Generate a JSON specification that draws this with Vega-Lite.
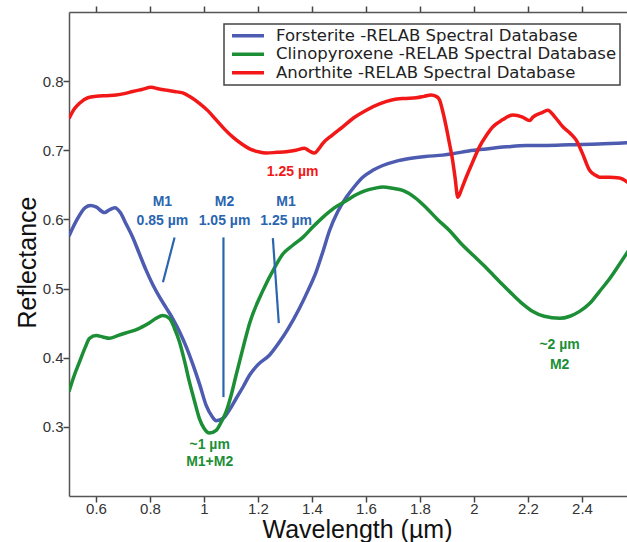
{
  "$schema": "https://vega.github.io/schema/vega-lite/v6.json",
  "width": 560,
  "height": 484,
  "autosize": {"type": "none"},
  "padding": {"left": 69, "top": 12, "right": 0, "bottom": 46},
  "background": "white",
  "config": {
    "view": {"stroke": null},
    "font": "Liberation Sans",
    "legend": {"strokeWidth": 1.5},
    "axis": {
      "domainColor": "#555555",
      "domainWidth": 1.5,
      "tickColor": "#444444",
      "tickWidth": 1.5,
      "tickSize": 6,
      "grid": false,
      "labelFont": "Liberation Sans",
      "labelFontSize": 15,
      "labelColor": "#333333",
      "titleFont": "Liberation Sans",
      "titleFontWeight": "normal",
      "titleFontSize": 25,
      "titleColor": "#111111"
    }
  },
  "datasets": {
    "spectra": [
      {"mineral": "Forsterite", "wavelength": 0.5, "reflectance": 0.576},
      {"mineral": "Forsterite", "wavelength": 0.53, "reflectance": 0.6},
      {"mineral": "Forsterite", "wavelength": 0.56, "reflectance": 0.617},
      {"mineral": "Forsterite", "wavelength": 0.58, "reflectance": 0.62},
      {"mineral": "Forsterite", "wavelength": 0.6, "reflectance": 0.618},
      {"mineral": "Forsterite", "wavelength": 0.631, "reflectance": 0.61},
      {"mineral": "Forsterite", "wavelength": 0.65, "reflectance": 0.614},
      {"mineral": "Forsterite", "wavelength": 0.67, "reflectance": 0.617},
      {"mineral": "Forsterite", "wavelength": 0.69, "reflectance": 0.61},
      {"mineral": "Forsterite", "wavelength": 0.712, "reflectance": 0.593},
      {"mineral": "Forsterite", "wavelength": 0.735, "reflectance": 0.575},
      {"mineral": "Forsterite", "wavelength": 0.761, "reflectance": 0.55},
      {"mineral": "Forsterite", "wavelength": 0.785, "reflectance": 0.527},
      {"mineral": "Forsterite", "wavelength": 0.81, "reflectance": 0.506},
      {"mineral": "Forsterite", "wavelength": 0.835, "reflectance": 0.488},
      {"mineral": "Forsterite", "wavelength": 0.86, "reflectance": 0.472},
      {"mineral": "Forsterite", "wavelength": 0.885, "reflectance": 0.456},
      {"mineral": "Forsterite", "wavelength": 0.909, "reflectance": 0.438},
      {"mineral": "Forsterite", "wavelength": 0.935, "reflectance": 0.415},
      {"mineral": "Forsterite", "wavelength": 0.959, "reflectance": 0.39},
      {"mineral": "Forsterite", "wavelength": 0.985, "reflectance": 0.36},
      {"mineral": "Forsterite", "wavelength": 1.008, "reflectance": 0.331},
      {"mineral": "Forsterite", "wavelength": 1.03, "reflectance": 0.315},
      {"mineral": "Forsterite", "wavelength": 1.045, "reflectance": 0.309},
      {"mineral": "Forsterite", "wavelength": 1.07, "reflectance": 0.312},
      {"mineral": "Forsterite", "wavelength": 1.095, "reflectance": 0.325},
      {"mineral": "Forsterite", "wavelength": 1.119, "reflectance": 0.341},
      {"mineral": "Forsterite", "wavelength": 1.145, "reflectance": 0.358},
      {"mineral": "Forsterite", "wavelength": 1.169, "reflectance": 0.375},
      {"mineral": "Forsterite", "wavelength": 1.2, "reflectance": 0.39},
      {"mineral": "Forsterite", "wavelength": 1.243, "reflectance": 0.404},
      {"mineral": "Forsterite", "wavelength": 1.28, "reflectance": 0.423},
      {"mineral": "Forsterite", "wavelength": 1.31, "reflectance": 0.441},
      {"mineral": "Forsterite", "wavelength": 1.354, "reflectance": 0.472},
      {"mineral": "Forsterite", "wavelength": 1.385, "reflectance": 0.497},
      {"mineral": "Forsterite", "wavelength": 1.416, "reflectance": 0.525},
      {"mineral": "Forsterite", "wavelength": 1.44, "reflectance": 0.553},
      {"mineral": "Forsterite", "wavelength": 1.465, "reflectance": 0.584},
      {"mineral": "Forsterite", "wavelength": 1.495, "reflectance": 0.611},
      {"mineral": "Forsterite", "wavelength": 1.527, "reflectance": 0.632},
      {"mineral": "Forsterite", "wavelength": 1.558, "reflectance": 0.648},
      {"mineral": "Forsterite", "wavelength": 1.588, "reflectance": 0.661},
      {"mineral": "Forsterite", "wavelength": 1.625, "reflectance": 0.671},
      {"mineral": "Forsterite", "wavelength": 1.662, "reflectance": 0.678},
      {"mineral": "Forsterite", "wavelength": 1.71, "reflectance": 0.684},
      {"mineral": "Forsterite", "wavelength": 1.761, "reflectance": 0.688},
      {"mineral": "Forsterite", "wavelength": 1.82, "reflectance": 0.691},
      {"mineral": "Forsterite", "wavelength": 1.884, "reflectance": 0.693},
      {"mineral": "Forsterite", "wavelength": 1.921, "reflectance": 0.695},
      {"mineral": "Forsterite", "wavelength": 1.98, "reflectance": 0.699},
      {"mineral": "Forsterite", "wavelength": 2.045, "reflectance": 0.702},
      {"mineral": "Forsterite", "wavelength": 2.12, "reflectance": 0.705},
      {"mineral": "Forsterite", "wavelength": 2.193, "reflectance": 0.707},
      {"mineral": "Forsterite", "wavelength": 2.27, "reflectance": 0.707},
      {"mineral": "Forsterite", "wavelength": 2.354, "reflectance": 0.708},
      {"mineral": "Forsterite", "wavelength": 2.46, "reflectance": 0.709},
      {"mineral": "Forsterite", "wavelength": 2.574, "reflectance": 0.711},

      {"mineral": "Clinopyroxene", "wavelength": 0.5, "reflectance": 0.351},
      {"mineral": "Clinopyroxene", "wavelength": 0.52, "reflectance": 0.375},
      {"mineral": "Clinopyroxene", "wavelength": 0.539, "reflectance": 0.394},
      {"mineral": "Clinopyroxene", "wavelength": 0.56, "reflectance": 0.415},
      {"mineral": "Clinopyroxene", "wavelength": 0.576, "reflectance": 0.428},
      {"mineral": "Clinopyroxene", "wavelength": 0.601, "reflectance": 0.432},
      {"mineral": "Clinopyroxene", "wavelength": 0.625, "reflectance": 0.43},
      {"mineral": "Clinopyroxene", "wavelength": 0.65, "reflectance": 0.428},
      {"mineral": "Clinopyroxene", "wavelength": 0.68, "reflectance": 0.432},
      {"mineral": "Clinopyroxene", "wavelength": 0.712, "reflectance": 0.436},
      {"mineral": "Clinopyroxene", "wavelength": 0.745, "reflectance": 0.44},
      {"mineral": "Clinopyroxene", "wavelength": 0.773, "reflectance": 0.445},
      {"mineral": "Clinopyroxene", "wavelength": 0.8, "reflectance": 0.451},
      {"mineral": "Clinopyroxene", "wavelength": 0.823, "reflectance": 0.457},
      {"mineral": "Clinopyroxene", "wavelength": 0.847, "reflectance": 0.461},
      {"mineral": "Clinopyroxene", "wavelength": 0.872, "reflectance": 0.457},
      {"mineral": "Clinopyroxene", "wavelength": 0.89, "reflectance": 0.443},
      {"mineral": "Clinopyroxene", "wavelength": 0.909, "reflectance": 0.423},
      {"mineral": "Clinopyroxene", "wavelength": 0.928, "reflectance": 0.395},
      {"mineral": "Clinopyroxene", "wavelength": 0.946, "reflectance": 0.365},
      {"mineral": "Clinopyroxene", "wavelength": 0.965, "reflectance": 0.337},
      {"mineral": "Clinopyroxene", "wavelength": 0.983, "reflectance": 0.312},
      {"mineral": "Clinopyroxene", "wavelength": 1.0, "reflectance": 0.298},
      {"mineral": "Clinopyroxene", "wavelength": 1.02, "reflectance": 0.291},
      {"mineral": "Clinopyroxene", "wavelength": 1.045, "reflectance": 0.295},
      {"mineral": "Clinopyroxene", "wavelength": 1.065, "reflectance": 0.308},
      {"mineral": "Clinopyroxene", "wavelength": 1.082, "reflectance": 0.322},
      {"mineral": "Clinopyroxene", "wavelength": 1.1, "reflectance": 0.345},
      {"mineral": "Clinopyroxene", "wavelength": 1.119, "reflectance": 0.375},
      {"mineral": "Clinopyroxene", "wavelength": 1.145, "reflectance": 0.415},
      {"mineral": "Clinopyroxene", "wavelength": 1.169, "reflectance": 0.45},
      {"mineral": "Clinopyroxene", "wavelength": 1.218, "reflectance": 0.497},
      {"mineral": "Clinopyroxene", "wavelength": 1.261, "reflectance": 0.53},
      {"mineral": "Clinopyroxene", "wavelength": 1.292, "reflectance": 0.55},
      {"mineral": "Clinopyroxene", "wavelength": 1.33, "reflectance": 0.563},
      {"mineral": "Clinopyroxene", "wavelength": 1.366, "reflectance": 0.574},
      {"mineral": "Clinopyroxene", "wavelength": 1.4, "reflectance": 0.588},
      {"mineral": "Clinopyroxene", "wavelength": 1.44, "reflectance": 0.603},
      {"mineral": "Clinopyroxene", "wavelength": 1.48, "reflectance": 0.616},
      {"mineral": "Clinopyroxene", "wavelength": 1.527, "reflectance": 0.627},
      {"mineral": "Clinopyroxene", "wavelength": 1.565, "reflectance": 0.636},
      {"mineral": "Clinopyroxene", "wavelength": 1.601, "reflectance": 0.642},
      {"mineral": "Clinopyroxene", "wavelength": 1.632, "reflectance": 0.645},
      {"mineral": "Clinopyroxene", "wavelength": 1.662, "reflectance": 0.647},
      {"mineral": "Clinopyroxene", "wavelength": 1.7, "reflectance": 0.645},
      {"mineral": "Clinopyroxene", "wavelength": 1.736, "reflectance": 0.642},
      {"mineral": "Clinopyroxene", "wavelength": 1.78, "reflectance": 0.632},
      {"mineral": "Clinopyroxene", "wavelength": 1.823, "reflectance": 0.617},
      {"mineral": "Clinopyroxene", "wavelength": 1.865, "reflectance": 0.6},
      {"mineral": "Clinopyroxene", "wavelength": 1.909, "reflectance": 0.584},
      {"mineral": "Clinopyroxene", "wavelength": 1.95, "reflectance": 0.566},
      {"mineral": "Clinopyroxene", "wavelength": 2.0, "reflectance": 0.547},
      {"mineral": "Clinopyroxene", "wavelength": 2.045, "reflectance": 0.53},
      {"mineral": "Clinopyroxene", "wavelength": 2.095, "reflectance": 0.51},
      {"mineral": "Clinopyroxene", "wavelength": 2.144, "reflectance": 0.491},
      {"mineral": "Clinopyroxene", "wavelength": 2.18, "reflectance": 0.478},
      {"mineral": "Clinopyroxene", "wavelength": 2.218, "reflectance": 0.467},
      {"mineral": "Clinopyroxene", "wavelength": 2.26, "reflectance": 0.46},
      {"mineral": "Clinopyroxene", "wavelength": 2.317, "reflectance": 0.457},
      {"mineral": "Clinopyroxene", "wavelength": 2.355, "reflectance": 0.46},
      {"mineral": "Clinopyroxene", "wavelength": 2.391, "reflectance": 0.467},
      {"mineral": "Clinopyroxene", "wavelength": 2.43, "reflectance": 0.479},
      {"mineral": "Clinopyroxene", "wavelength": 2.465, "reflectance": 0.496},
      {"mineral": "Clinopyroxene", "wavelength": 2.5, "reflectance": 0.513},
      {"mineral": "Clinopyroxene", "wavelength": 2.535, "reflectance": 0.533},
      {"mineral": "Clinopyroxene", "wavelength": 2.574, "reflectance": 0.556},

      {"mineral": "Anorthite", "wavelength": 0.5, "reflectance": 0.746},
      {"mineral": "Anorthite", "wavelength": 0.52, "reflectance": 0.76},
      {"mineral": "Anorthite", "wavelength": 0.539, "reflectance": 0.768},
      {"mineral": "Anorthite", "wavelength": 0.57, "reflectance": 0.776},
      {"mineral": "Anorthite", "wavelength": 0.601, "reflectance": 0.778},
      {"mineral": "Anorthite", "wavelength": 0.64, "reflectance": 0.779},
      {"mineral": "Anorthite", "wavelength": 0.675, "reflectance": 0.78},
      {"mineral": "Anorthite", "wavelength": 0.705, "reflectance": 0.782},
      {"mineral": "Anorthite", "wavelength": 0.736, "reflectance": 0.785},
      {"mineral": "Anorthite", "wavelength": 0.77, "reflectance": 0.788},
      {"mineral": "Anorthite", "wavelength": 0.804, "reflectance": 0.791},
      {"mineral": "Anorthite", "wavelength": 0.83, "reflectance": 0.789},
      {"mineral": "Anorthite", "wavelength": 0.86, "reflectance": 0.787},
      {"mineral": "Anorthite", "wavelength": 0.89, "reflectance": 0.785},
      {"mineral": "Anorthite", "wavelength": 0.921, "reflectance": 0.783},
      {"mineral": "Anorthite", "wavelength": 0.95, "reflectance": 0.777},
      {"mineral": "Anorthite", "wavelength": 0.983, "reflectance": 0.768},
      {"mineral": "Anorthite", "wavelength": 1.015, "reflectance": 0.757},
      {"mineral": "Anorthite", "wavelength": 1.045, "reflectance": 0.744},
      {"mineral": "Anorthite", "wavelength": 1.075, "reflectance": 0.731},
      {"mineral": "Anorthite", "wavelength": 1.107, "reflectance": 0.719},
      {"mineral": "Anorthite", "wavelength": 1.14, "reflectance": 0.709},
      {"mineral": "Anorthite", "wavelength": 1.169, "reflectance": 0.702},
      {"mineral": "Anorthite", "wavelength": 1.2, "reflectance": 0.698},
      {"mineral": "Anorthite", "wavelength": 1.23, "reflectance": 0.696},
      {"mineral": "Anorthite", "wavelength": 1.27, "reflectance": 0.697},
      {"mineral": "Anorthite", "wavelength": 1.304, "reflectance": 0.698},
      {"mineral": "Anorthite", "wavelength": 1.34, "reflectance": 0.7},
      {"mineral": "Anorthite", "wavelength": 1.372, "reflectance": 0.703},
      {"mineral": "Anorthite", "wavelength": 1.39, "reflectance": 0.699},
      {"mineral": "Anorthite", "wavelength": 1.409, "reflectance": 0.696},
      {"mineral": "Anorthite", "wavelength": 1.425, "reflectance": 0.702},
      {"mineral": "Anorthite", "wavelength": 1.44, "reflectance": 0.71},
      {"mineral": "Anorthite", "wavelength": 1.475, "reflectance": 0.722},
      {"mineral": "Anorthite", "wavelength": 1.514, "reflectance": 0.734},
      {"mineral": "Anorthite", "wavelength": 1.555, "reflectance": 0.747},
      {"mineral": "Anorthite", "wavelength": 1.601, "reflectance": 0.758},
      {"mineral": "Anorthite", "wavelength": 1.65, "reflectance": 0.767},
      {"mineral": "Anorthite", "wavelength": 1.699, "reflectance": 0.773},
      {"mineral": "Anorthite", "wavelength": 1.74, "reflectance": 0.775},
      {"mineral": "Anorthite", "wavelength": 1.786, "reflectance": 0.776},
      {"mineral": "Anorthite", "wavelength": 1.815, "reflectance": 0.778},
      {"mineral": "Anorthite", "wavelength": 1.841, "reflectance": 0.78},
      {"mineral": "Anorthite", "wavelength": 1.86, "reflectance": 0.778},
      {"mineral": "Anorthite", "wavelength": 1.872, "reflectance": 0.773},
      {"mineral": "Anorthite", "wavelength": 1.885, "reflectance": 0.755},
      {"mineral": "Anorthite", "wavelength": 1.897, "reflectance": 0.734},
      {"mineral": "Anorthite", "wavelength": 1.91, "reflectance": 0.708},
      {"mineral": "Anorthite", "wavelength": 1.921, "reflectance": 0.685},
      {"mineral": "Anorthite", "wavelength": 1.93, "reflectance": 0.66},
      {"mineral": "Anorthite", "wavelength": 1.94, "reflectance": 0.632},
      {"mineral": "Anorthite", "wavelength": 1.955, "reflectance": 0.645},
      {"mineral": "Anorthite", "wavelength": 1.971, "reflectance": 0.661},
      {"mineral": "Anorthite", "wavelength": 1.995, "reflectance": 0.683},
      {"mineral": "Anorthite", "wavelength": 2.02, "reflectance": 0.705},
      {"mineral": "Anorthite", "wavelength": 2.045, "reflectance": 0.721},
      {"mineral": "Anorthite", "wavelength": 2.07, "reflectance": 0.734},
      {"mineral": "Anorthite", "wavelength": 2.105, "reflectance": 0.744},
      {"mineral": "Anorthite", "wavelength": 2.144, "reflectance": 0.751},
      {"mineral": "Anorthite", "wavelength": 2.18, "reflectance": 0.748},
      {"mineral": "Anorthite", "wavelength": 2.206, "reflectance": 0.743},
      {"mineral": "Anorthite", "wavelength": 2.218, "reflectance": 0.748},
      {"mineral": "Anorthite", "wavelength": 2.23, "reflectance": 0.751},
      {"mineral": "Anorthite", "wavelength": 2.25, "reflectance": 0.754},
      {"mineral": "Anorthite", "wavelength": 2.273, "reflectance": 0.758},
      {"mineral": "Anorthite", "wavelength": 2.3, "reflectance": 0.748},
      {"mineral": "Anorthite", "wavelength": 2.329, "reflectance": 0.734},
      {"mineral": "Anorthite", "wavelength": 2.355, "reflectance": 0.725},
      {"mineral": "Anorthite", "wavelength": 2.378, "reflectance": 0.715},
      {"mineral": "Anorthite", "wavelength": 2.4, "reflectance": 0.697},
      {"mineral": "Anorthite", "wavelength": 2.428, "reflectance": 0.671},
      {"mineral": "Anorthite", "wavelength": 2.45, "reflectance": 0.664},
      {"mineral": "Anorthite", "wavelength": 2.465, "reflectance": 0.661},
      {"mineral": "Anorthite", "wavelength": 2.5, "reflectance": 0.661},
      {"mineral": "Anorthite", "wavelength": 2.539, "reflectance": 0.66},
      {"mineral": "Anorthite", "wavelength": 2.574, "reflectance": 0.652}
    ],
    "pointers": [
      {"band": "M1 0.85", "x": 0.891, "y": 0.574, "x2": 0.848, "y2": 0.509},
      {"band": "M2 1.05", "x": 1.072, "y": 0.574, "x2": 1.072, "y2": 0.343},
      {"band": "M1 1.25", "x": 1.255, "y": 0.573, "x2": 1.277, "y2": 0.45}
    ],
    "labels": [
      {"group": "Forsterite", "text": "M1", "x": 0.846, "y": 0.625},
      {"group": "Forsterite", "text": "0.85 µm", "x": 0.846, "y": 0.598},
      {"group": "Forsterite", "text": "M2", "x": 1.076, "y": 0.625},
      {"group": "Forsterite", "text": "1.05 µm", "x": 1.076, "y": 0.598},
      {"group": "Forsterite", "text": "M1", "x": 1.304, "y": 0.625},
      {"group": "Forsterite", "text": "1.25 µm", "x": 1.304, "y": 0.598},
      {"group": "Anorthite", "text": "1.25 µm", "x": 1.328, "y": 0.669},
      {"group": "Clinopyroxene", "text": "~1 µm", "x": 1.021, "y": 0.274},
      {"group": "Clinopyroxene", "text": "M1+M2", "x": 1.021, "y": 0.249},
      {"group": "Clinopyroxene", "text": "~2 µm", "x": 2.317, "y": 0.419},
      {"group": "Clinopyroxene", "text": "M2", "x": 2.317, "y": 0.39}
    ]
  },
  "layer": [
    {
      "data": {"name": "spectra"},
      "mark": {"type": "line", "strokeWidth": 3.5, "interpolate": "monotone", "clip": true},
      "encoding": {
        "x": {
          "field": "wavelength", "type": "quantitative",
          "scale": {"domain": [0.5, 2.574], "nice": false, "zero": false},
          "axis": {
            "orient": "bottom",
            "values": [0.6, 0.8, 1, 1.2, 1.4, 1.6, 1.8, 2, 2.2, 2.4],
            "format": "~g",
            "labelPadding": -1,
            "title": "Wavelength (µm)",
            "titleX": 288,
            "titleY": 33,
            "titleBaseline": "middle",
            "encode": {"ticks": {"update": {"y2": {"value": -6}}}}
          }
        },
        "y": {
          "field": "reflectance", "type": "quantitative",
          "scale": {"domain": [0.2, 0.9], "nice": false, "zero": false},
          "axis": {
            "orient": "left",
            "values": [0.3, 0.4, 0.5, 0.6, 0.7, 0.8],
            "format": ".1f",
            "labelPadding": 0,
            "title": "Reflectance",
            "titleX": -42,
            "titleY": 250,
            "titleAngle": -90,
            "titleAlign": "center",
            "titleBaseline": "middle",
            "encode": {"ticks": {"update": {"x2": {"value": 6}}}}
          }
        },
        "color": {
          "field": "mineral", "type": "nominal",
          "scale": {
            "domain": ["Forsterite", "Clinopyroxene", "Anorthite"],
            "range": ["#4d5bb0", "#1c8f36", "#f21818"]
          },
          "legend": {
            "title": null,
            "orient": "none",
            "legendX": 155,
            "legendY": 12,
            "labelExpr": "datum.label + ' -RELAB Spectral Database'",
            "labelFont": "DejaVu Sans",
            "labelFontSize": 16.5,
            "labelColor": "#222222",
            "labelLimit": 500,
            "labelOffset": 10,
            "symbolType": "stroke",
            "symbolSize": 1024,
            "symbolStrokeWidth": 3.5,
            "symbolOffset": 3,
            "clipHeight": 17.5,
            "rowPadding": 0.5,
            "padding": 3,
            "strokeColor": "#444444",
            "fillColor": "white",
            "cornerRadius": 0
          }
        }
      }
    },
    {
      "data": {"name": "pointers"},
      "mark": {"type": "rule", "color": "#2a66b0", "strokeWidth": 2.2},
      "encoding": {
        "x": {
          "field": "x", "type": "quantitative",
          "axis": {
            "orient": "top",
            "values": [0.6, 0.8, 1, 1.2, 1.4, 1.6, 1.8, 2, 2.2, 2.4],
            "labels": false,
            "title": null,
            "encode": {"ticks": {"update": {"y2": {"value": 6}}}}
          }
        },
        "y": {
          "field": "y", "type": "quantitative",
          "axis": {
            "orient": "right",
            "values": [0.3, 0.4, 0.5, 0.6, 0.7, 0.8],
            "labels": false,
            "title": null,
            "encode": {"ticks": {"update": {"x2": {"value": -6}}}}
          }
        },
        "x2": {"field": "x2"},
        "y2": {"field": "y2"}
      }
    },
    {
      "data": {"name": "labels"},
      "transform": [{"filter": "datum.group === 'Forsterite'"}],
      "mark": {"type": "text", "color": "#2a66b0", "fontWeight": "bold", "fontSize": 14, "baseline": "middle", "align": "center"},
      "encoding": {
        "x": {"field": "x", "type": "quantitative", "axis": null},
        "y": {"field": "y", "type": "quantitative", "axis": null},
        "text": {"field": "text"}
      }
    },
    {
      "data": {"name": "labels"},
      "transform": [{"filter": "datum.group === 'Anorthite'"}],
      "mark": {"type": "text", "color": "#f21818", "fontWeight": "bold", "fontSize": 14, "baseline": "middle", "align": "center"},
      "encoding": {
        "x": {"field": "x", "type": "quantitative", "axis": null},
        "y": {"field": "y", "type": "quantitative", "axis": null},
        "text": {"field": "text"}
      }
    },
    {
      "data": {"name": "labels"},
      "transform": [{"filter": "datum.group === 'Clinopyroxene'"}],
      "mark": {"type": "text", "color": "#1c8f36", "fontWeight": "bold", "fontSize": 14, "baseline": "middle", "align": "center"},
      "encoding": {
        "x": {"field": "x", "type": "quantitative", "axis": null},
        "y": {"field": "y", "type": "quantitative", "axis": null},
        "text": {"field": "text"}
      }
    }
  ]
}
